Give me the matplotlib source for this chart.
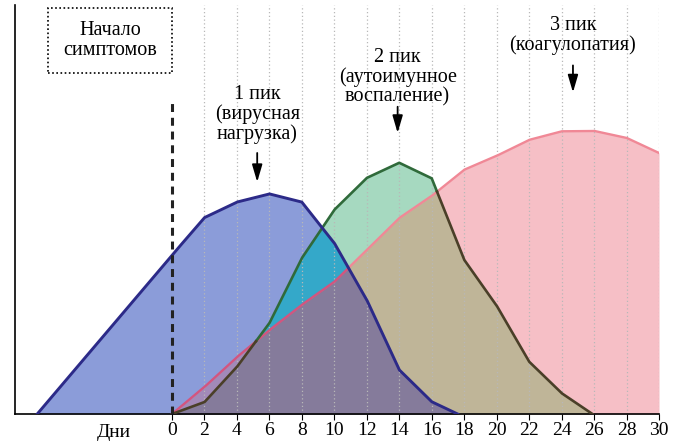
import numpy as np
import matplotlib
matplotlib.use('Agg')
from matplotlib import pyplot as plt
from matplotlib.patches import Rectangle

plt.rcParams['font.family'] = ['Liberation Serif', 'DejaVu Serif']

# days / relative level (0..100)
blue_x = [-8.3, 0, 2, 4, 6, 8, 10, 12, 14, 16, 17.6]
blue_y = [0, 38.8, 48.0, 51.8, 53.8, 51.8, 41.8, 27.9, 10.8, 3.0, 0]

green_x = [0, 2, 4, 6, 8, 10, 12, 14, 16, 18, 20, 22, 24, 25.9]
green_y = [0, 2.9, 11.5, 22.2, 38.1, 49.9, 57.7, 61.4, 57.6, 37.7, 26.5, 12.8, 5.1, 0]

pink_x = [0, 2, 4, 6, 8, 10, 12, 14, 16, 18, 20, 22, 24, 26, 28, 30]
pink_y = [0, 6.6, 13.9, 20.5, 26.7, 32.3, 40.1, 47.9, 53.3, 59.7, 63.1, 67.0,
          69.1, 69.2, 67.5, 63.8]

tick_days = list(range(0, 31, 2))
peak_texts = ['1 пик\n(вирусная\nнагрузка)',
              '2 пик\n(аутоимунное\nвоспаление)',
              '3 пик\n(коагулопатия)']
peak_days = [5.25, 13.9, 24.7]
onset_text = 'Начало\nсимптомов'
xlabel_text = 'Дни'

fig = plt.figure(figsize=(6.81, 4.42), dpi=100)
ax = fig.add_axes([0.022, 0.0633, 0.9457, 0.9257])
ax.set_xlim(-9.67, 30)
ax.set_ylim(0, 100)

xs = np.linspace(-10, 30, 4001)
b = np.interp(xs, blue_x, blue_y, left=0, right=0)
g = np.interp(xs, green_x, green_y, left=0, right=0)
p = np.interp(xs, pink_x, pink_y, left=0, right=0)

# fills: single areas first, then the overlaps on top
ax.fill_between(xs, 0, b, color='#8b9cd9', lw=0, zorder=1)
ax.fill_between(xs, 0, g, color='#a6d9c0', lw=0, zorder=1)
ax.fill_between(xs, 0, p, color='#f6bfc6', lw=0, zorder=1)
ax.fill_between(xs, 0, np.minimum(b, g), color='#34a8c9', lw=0, zorder=1.1)
ax.fill_between(xs, 0, np.minimum(b, p), color='#a28ab9', lw=0, zorder=1.1)
ax.fill_between(xs, 0, np.minimum(g, p), color='#bfb598', lw=0, zorder=1.1)
ax.fill_between(xs, 0, np.minimum(np.minimum(b, g), p), color='#857b9b',
                lw=0, zorder=1.2)

for d in tick_days[1:]:
    ax.axvline(d, color='#b8b8b8', lw=0.9, ls=(0, (1, 2)), zorder=2)

# outlines
bl = np.interp(xs, blue_x, blue_y, left=np.nan, right=np.nan)
gl = np.interp(xs, green_x, green_y, left=np.nan, right=np.nan)
pl = np.interp(xs, pink_x, pink_y, left=np.nan, right=np.nan)

ax.plot(xs, np.where(pl >= b, pl, np.nan), color='#f08896', lw=1.7, zorder=3)
ax.plot(xs, np.where(pl < b, pl, np.nan), color='#d3557f', lw=1.7, zorder=3)
ax.plot(xs, np.where(gl >= p, gl, np.nan), color='#2f6a3a', lw=1.9, zorder=3.1)
ax.plot(xs, np.where(gl < p, gl, np.nan), color='#4a3f28', lw=1.9, zorder=3.1)
ax.plot(xs, bl, color='#2c2a88', lw=2.1, zorder=3.2)

ax.plot([0, 0], [0, 77.3], color='#222222', lw=2.2, ls=(0, (2.6, 1.9)),
        zorder=4)

# annotations
ax.add_patch(Rectangle((-7.64, 83.4), 7.64, 15.9, fill=False, ec='black',
                       lw=1.2, ls=(0, (1, 1.5)), clip_on=False, zorder=5))
ax.text(-3.82, 91.3, onset_text, ha='center', va='center', fontsize=14.5,
        linespacing=1.02, zorder=5)

text_y = [73.3, 82.4, 92.4]
arrow_top = [63.8, 75.1, 85.2]
arrow_tip = [56.7, 68.7, 78.6]
for txt, d, ty, a0, a1 in zip(peak_texts, peak_days, text_y, arrow_top, arrow_tip):
    ax.text(d, ty, txt, ha='center', va='center', fontsize=14.5,
            linespacing=1.02, zorder=5)
    ax.annotate('', xy=(d, a1), xytext=(d, a0),
                arrowprops=dict(arrowstyle='-|>,head_width=0.22,head_length=0.75',
                                color='black', lw=1.3,
                                mutation_scale=14, shrinkA=0, shrinkB=0),
                zorder=5)

ax.set_xticks(tick_days)
ax.set_xticklabels([str(d) for d in tick_days], fontsize=14)
ax.tick_params(axis='x', direction='out', length=4, width=0.8, pad=2)
ax.set_yticks([])
ax.text(-3.6, -0.045, xlabel_text, transform=ax.get_xaxis_transform(),
        ha='center', va='center', fontsize=14)

for s in ['top', 'right']:
    ax.spines[s].set_visible(False)
ax.spines['left'].set_linewidth(1.2)
ax.spines['bottom'].set_linewidth(1.2)

fig.savefig('out.png', dpi=100)
